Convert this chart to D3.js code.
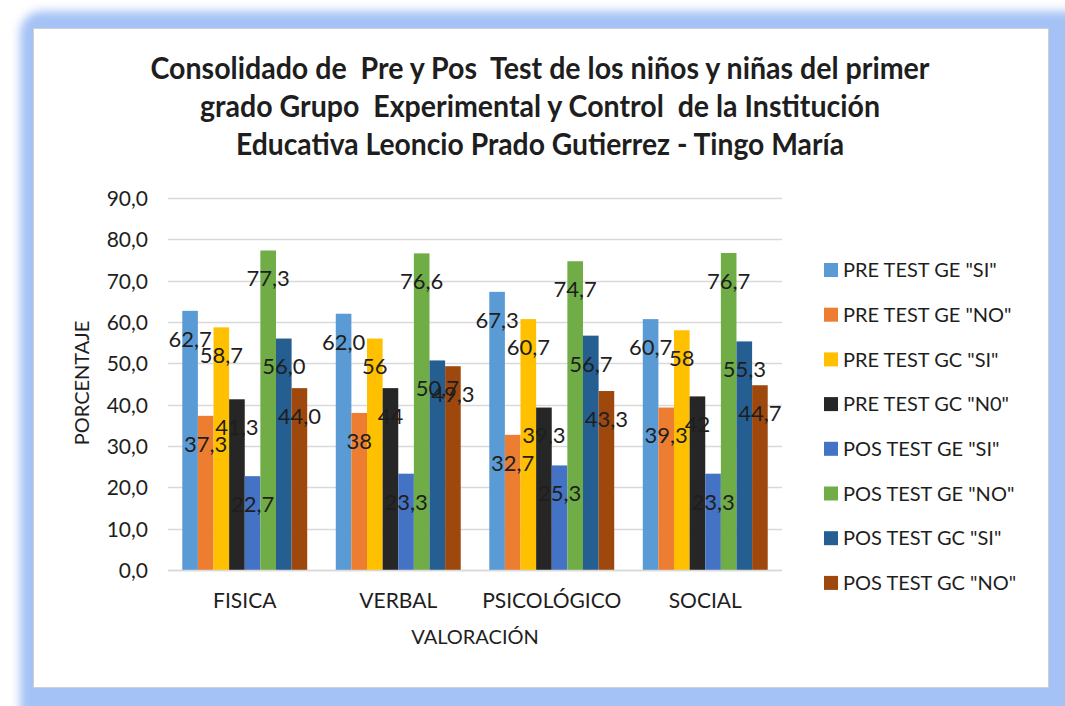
<!DOCTYPE html>
<html lang="es">
<head>
  <meta charset="UTF-8">
  <title>Consolidado de Pre y Pos Test</title>
  <script src="https://d3js.org/d3.v7.min.js"></script>
  <style>
    body {
      margin: 0;
      background: #ffffff;
    }
    text {
      font-family: Lato, 'Open Sans', sans-serif;
      fill: #1e1e1e;
    }
    .title {
      font-weight: bold;
      font-size: 30px;
      text-anchor: middle;
      white-space: pre;
    }
    .tick text {
      font-size: 21px;
    }
  </style>
</head>
<body>
  <script>
    var categories = ["FISICA", "VERBAL", "PSICOLÓGICO", "SOCIAL"];

    var seriesNames = [
      'PRE TEST GE "SI"', 'PRE TEST GE "NO"', 'PRE TEST GC "SI"', 'PRE TEST GC "N0"',
      'POS TEST GE "SI"', 'POS TEST GE "NO"', 'POS TEST GC "SI"', 'POS TEST GC "NO"'
    ];

    var seriesColors = ["#5b9bd5", "#ed7d31", "#ffc000", "#262626",
                        "#4472c4", "#70ad47", "#255e91", "#9e480e"];

    // values per series, in category order
    var preGeSi  = [62.7, 62.0, 67.3, 60.7];
    var preGeNo  = [37.3, 38.0, 32.7, 39.3];
    var preGcSi  = [58.7, 56.0, 60.7, 58.0];
    var preGcNo  = [41.3, 44.0, 39.3, 42.0];
    var posGeSi  = [22.7, 23.3, 25.3, 23.3];
    var posGeNo  = [77.3, 76.6, 74.7, 76.7];
    var posGcSi  = [56.0, 50.7, 56.7, 55.3];
    var posGcNo  = [44.0, 49.3, 43.3, 44.7];

    // labels as printed on the chart
    var labelText = [
      ["62,7", "62,0", "67,3", "60,7"],
      ["37,3", "38", "32,7", "39,3"],
      ["58,7", "56", "60,7", "58"],
      ["41,3", "44", "39,3", "42"],
      ["22,7", "23,3", "25,3", "23,3"],
      ["77,3", "76,6", "74,7", "76,7"],
      ["56,0", "50,7", "56,7", "55,3"],
      ["44,0", "49,3", "43,3", "44,7"]
    ];

    var yTicks = [0, 10, 20, 30, 40, 50, 60, 70, 80, 90];

    var titleLines = [
      "Consolidado de  Pre y Pos  Test de los niños y niñas del primer",
      "grado Grupo  Experimental y Control  de la Institución",
      "Educativa Leoncio Prado Gutierrez - Tingo María"
    ];

    var values = [preGeSi, preGeNo, preGcSi, preGcNo, posGeSi, posGeNo, posGcSi, posGcNo];

    var width = 1065, height = 706;

    var svg = d3.select("body").append("svg")
      .attr("width", width)
      .attr("height", height);

    // blue glow frame
    var defs = svg.append("defs");
    defs.append("filter")
      .attr("id", "glow")
      .attr("x", "-10%").attr("y", "-10%")
      .attr("width", "120%").attr("height", "120%")
      .append("feGaussianBlur")
      .attr("stdDeviation", 5);

    svg.append("rect")
      .attr("x", 20).attr("y", 11)
      .attr("width", width + 20).attr("height", height + 20)
      .attr("rx", 22)
      .attr("fill", "#a4c2f5")
      .attr("filter", "url(#glow)");

    svg.append("rect")
      .attr("x", 33.5).attr("y", 28.5)
      .attr("width", 1015).attr("height", 659)
      .attr("fill", "#ffffff")
      .attr("stroke", "#cfcfcf");

    // title
    var titleWidths = [779, 680, 608];
    var titleBase = [79, 117, 155];
    svg.append("g")
      .selectAll("text")
      .data(titleLines)
      .enter()
      .append("text")
      .classed("title", true)
      .attr("xml:space", "preserve")
      .attr("x", 540)
      .attr("y", function(d, i) { return titleBase[i]; })
      .attr("textLength", function(d, i) { return titleWidths[i]; })
      .attr("lengthAdjust", "spacingAndGlyphs")
      .text(function(d) { return d; });

    var y = d3.scaleLinear()
      .domain([0, 90])
      .range([570, 198]);

    var x0 = d3.scaleBand()
      .domain(categories)
      .range([168, 782])
      .paddingInner(0.186)
      .paddingOuter(0.093);

    var x1 = d3.scaleBand()
      .domain(d3.range(seriesNames.length))
      .range([0, x0.bandwidth()]);

    // gridlines
    svg.append("g")
      .selectAll("line")
      .data(yTicks)
      .enter()
      .append("line")
      .attr("x1", 168).attr("x2", 782)
      .attr("y1", function(d) { return Math.round(y(d)) + 0.5; })
      .attr("y2", function(d) { return Math.round(y(d)) + 0.5; })
      .attr("stroke", "#d9d9d9")
      .attr("stroke-width", 1.5);

    // y axis labels
    var yAxis = svg.append("g")
      .attr("transform", "translate(148,0)")
      .call(d3.axisLeft(y).tickValues(yTicks).tickSize(0).tickPadding(0)
        .tickFormat(function(d) { return d.toFixed(1).replace(".", ","); }));
    yAxis.select(".domain").remove();
    yAxis.selectAll("text").attr("dy", "0.35em");

    // x axis labels
    var xAxis = svg.append("g")
      .attr("transform", "translate(0,590)")
      .call(d3.axisBottom(x0).tickSize(0).tickPadding(0));
    xAxis.select(".domain").remove();
    xAxis.selectAll("text").attr("font-size", 20).attr("dy", "0.85em");

    // bars
    var groups = svg.append("g")
      .selectAll("g")
      .data(categories)
      .enter()
      .append("g")
      .attr("transform", function(d) { return "translate(" + x0(d) + ",0)"; });

    groups.selectAll("rect")
      .data(function(d, ci) {
        return values.map(function(s, si) { return { si: si, v: s[ci], ci: ci }; });
      })
      .enter()
      .append("rect")
      .attr("x", function(d) { return x1(d.si); })
      .attr("y", function(d) { return y(d.v); })
      .attr("width", x1.bandwidth())
      .attr("height", function(d) { return y(0) - y(d.v); })
      .attr("fill", function(d) { return seriesColors[d.si]; });

    // data labels
    groups.selectAll(".lbl")
      .data(function(d, ci) {
        return values.map(function(s, si) { return { si: si, v: s[ci], ci: ci }; });
      })
      .enter()
      .append("text")
      .attr("class", "lbl")
      .attr("x", function(d) { return x1(d.si) + x1.bandwidth() / 2; })
      .attr("y", function(d) { return y(d.v) + 28; })
      .attr("dy", "0.36em")
      .attr("text-anchor", "middle")
      .attr("font-size", 22)
      .text(function(d) { return labelText[d.si][d.ci]; });

    // baseline
    svg.append("line")
      .attr("x1", 168).attr("x2", 782)
      .attr("y1", 570.5).attr("y2", 570.5)
      .attr("stroke", "#d9d9d9")
      .attr("stroke-width", 1.5);

    // axis titles
    svg.append("text")
      .attr("transform", "translate(89,383) rotate(-90)")
      .attr("text-anchor", "middle")
      .attr("font-size", 20)
      .text("PORCENTAJE");

    svg.append("text")
      .attr("x", 475)
      .attr("y", 644)
      .attr("text-anchor", "middle")
      .attr("font-size", 20)
      .text("VALORACIÓN");

    // legend
    var legend = svg.append("g")
      .selectAll("g")
      .data(seriesNames)
      .enter()
      .append("g")
      .attr("transform", function(d, i) { return "translate(824," + (270 + i * 44.7) + ")"; });

    legend.append("rect")
      .attr("x", 0).attr("y", -7)
      .attr("width", 14).attr("height", 14)
      .attr("fill", function(d, i) { return seriesColors[i]; });

    legend.append("text")
      .attr("x", 19)
      .attr("dy", "0.36em")
      .attr("font-size", 20)
      .text(function(d) { return d; });
  </script>
</body>
</html>
